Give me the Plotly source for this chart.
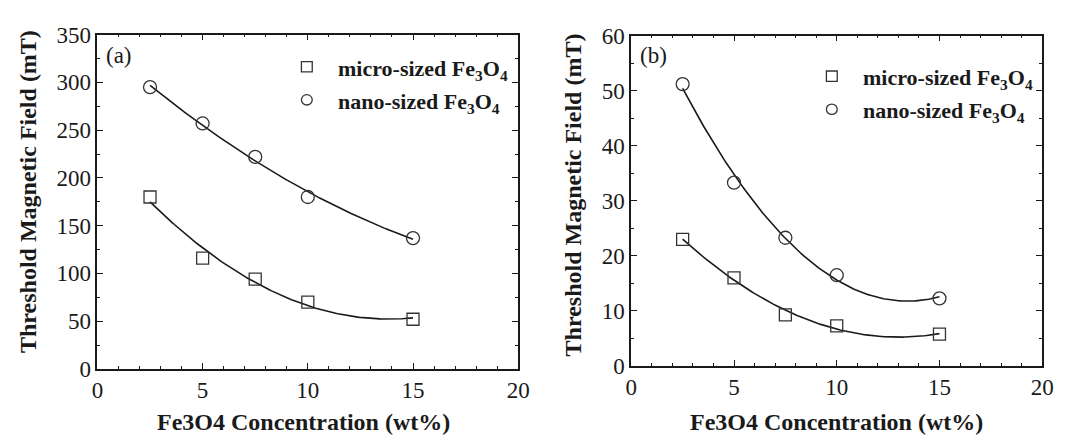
import numpy as np
import plotly.graph_objects as go

# Fe3O4 loading (wt%)
conc = [2.5, 5, 7.5, 10, 15]

# Panel (a): threshold field (mT)
a_micro = [180, 116, 94, 70, 52]
a_nano = [295, 257, 222, 180, 137]

# Panel (b): threshold field (mT)
b_micro = [23, 16, 9.3, 7.3, 5.8]
b_nano = [51.2, 33.3, 23.3, 16.5, 12.3]

x_ticks = [0, 5, 10, 15, 20]
a_ticks = [0, 50, 100, 150, 200, 250, 300, 350]
b_ticks = [0, 10, 20, 30, 40, 50, 60]

FONT = "Liberation Serif"
INK = "#1a1a1a"
W, H = 1066, 448

fig = go.Figure()


def fit_curve(x, y):
    coef = np.polyfit(x, y, 2)
    xs = np.linspace(min(x), max(x), 120)
    return xs.tolist(), np.polyval(coef, xs).tolist()


def add_panel(xa, ya, micro, nano):
    for vals in (micro, nano):
        xs, ys = fit_curve(conc, vals)
        fig.add_trace(go.Scatter(x=xs, y=ys, mode="lines", xaxis=xa, yaxis=ya,
                                 line=dict(color=INK, width=1.6), showlegend=False,
                                 hoverinfo="skip"))
    fig.add_trace(go.Scatter(x=conc, y=micro, mode="markers", xaxis=xa, yaxis=ya,
                             marker=dict(symbol="square-open", size=12, color="#333",
                                         line=dict(color="#333", width=1.3)),
                             showlegend=False))
    fig.add_trace(go.Scatter(x=conc, y=nano, mode="markers", xaxis=xa, yaxis=ya,
                             marker=dict(symbol="circle-open", size=13, color="#333",
                                         line=dict(color="#333", width=1.3)),
                             showlegend=False))


add_panel("x", "y", a_micro, a_nano)
add_panel("x2", "y2", b_micro, b_nano)


def axis(**kw):
    base = dict(
        showgrid=False, zeroline=False, showline=True, linecolor=INK, linewidth=1.6,
        mirror="allticks", ticks="inside", ticklen=6, tickwidth=1.4, tickcolor=INK,
        tickfont=dict(family=FONT, size=23, color=INK),
    )
    base.update(kw)
    return base


def minor(step):
    return dict(dtick=step, ticks="inside", ticklen=3, tickwidth=1.2, tickcolor=INK)


fig.update_layout(
    width=W, height=H,
    margin=dict(l=0, r=0, t=0, b=0),
    paper_bgcolor="white", plot_bgcolor="white",
    showlegend=False,
    xaxis=axis(domain=[93 / W, 521 / W], range=[0, 20], tickvals=x_ticks,
               minor=minor(1), anchor="y"),
    yaxis=axis(domain=[1 - 378 / H, 1 - 24 / H], range=[0, 350], tickvals=a_ticks,
               minor=minor(25), anchor="x"),
    xaxis2=axis(domain=[636 / W, 1054 / W], range=[0, 20], tickvals=x_ticks,
                minor=minor(1), anchor="y2"),
    yaxis2=axis(domain=[1 - 375 / H, 1 - 25 / H], range=[0, 60], tickvals=b_ticks,
                minor=minor(5), anchor="x2"),
)

ann = []
shapes = []
title_font = dict(family=FONT, size=24, color=INK)
legend_font = dict(family=FONT, size=22, color=INK)

# axis titles
for xc in (303, 845):
    ann.append(dict(x=xc / W, y=1 - 434 / H, xref="paper", yref="paper", showarrow=False,
                    xanchor="center", yanchor="middle",
                    text="<b>Fe3O4 Concentration (wt%)</b>", font=title_font))
for xc, yc in ((23, 190), (577, 194)):
    ann.append(dict(x=xc / W, y=1 - yc / H, xref="paper", yref="paper", showarrow=False,
                    xanchor="center", yanchor="middle", textangle=-90,
                    text="<b>Threshold Magnetic Field (mT)</b>", font=title_font))

# panel tags
for px, tag in ((100, "(a)"), (643, "(b)")):
    ann.append(dict(x=px / W, y=1 - 46 / H, xref="paper", yref="paper", showarrow=False,
                    xanchor="left", yanchor="middle", text=tag,
                    font=dict(family=FONT, size=23, color=INK)))

# legend entries: symbol drawn as a shape, label as an annotation
legend_rows = [
    (306, 58, 336, "rect", "<b>micro-sized Fe<sub>3</sub>O<sub>4</sub></b>"),
    (306, 93, 336, "circle", "<b>nano-sized Fe<sub>3</sub>O<sub>4</sub></b>"),
    (840, 68, 870, "rect", "<b>micro-sized Fe<sub>3</sub>O<sub>4</sub></b>"),
    (840, 103, 870, "circle", "<b>nano-sized Fe<sub>3</sub>O<sub>4</sub></b>"),
]
half = 5.5
for px, py, tx, kind, label in legend_rows:
    shapes.append(dict(type=kind, xref="paper", yref="paper",
                       x0=(px - half) / W, x1=(px + half) / W,
                       y0=1 - (py + half) / H, y1=1 - (py - half) / H,
                       line=dict(color="#333", width=1.3)))
    ann.append(dict(x=tx / W, y=1 - (py + 3) / H, xref="paper", yref="paper",
                    showarrow=False, xanchor="left", yanchor="middle", text=label,
                    font=legend_font))

fig.update_layout(annotations=ann, shapes=shapes)

fig.write_html("out.html")
